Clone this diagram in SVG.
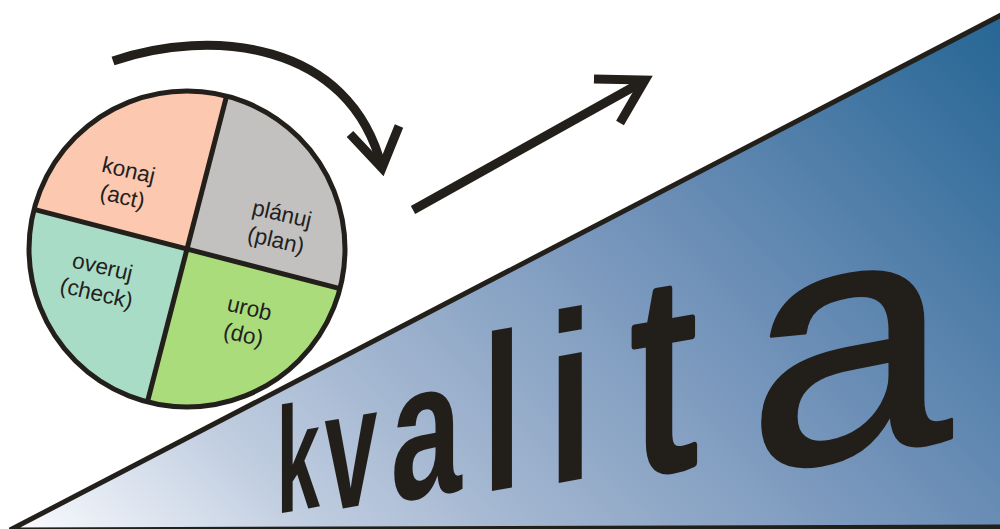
<svg xmlns="http://www.w3.org/2000/svg" width="1000" height="529" viewBox="0 0 1000 529">
<defs>
<linearGradient id="ramp" gradientUnits="userSpaceOnUse" x1="0" y1="529" x2="757" y2="-228">
<stop offset="0" stop-color="#ffffff"/>
<stop offset="0.05" stop-color="#eef2f8"/>
<stop offset="0.21" stop-color="#c0cde0"/>
<stop offset="0.365" stop-color="#a0b4cf"/>
<stop offset="0.645" stop-color="#6d8fb7"/>
<stop offset="0.96" stop-color="#2d6a98"/>
<stop offset="1" stop-color="#266797"/>
</linearGradient>
<style>
.ln{fill:none;stroke:#231f1a;stroke-width:9;stroke-linejoin:miter;stroke-linecap:butt}
.q{stroke:none}
.lbl{font-family:"Liberation Sans",Arial,sans-serif;font-size:22.5px;fill:#231f20;text-anchor:middle}
.big{font-family:"Liberation Sans",Arial,sans-serif;font-weight:bold;fill:#221f1b}
.reg{font-family:"Liberation Sans",Arial,sans-serif;font-weight:normal;fill:#221f1b;stroke:#221f1b;stroke-linejoin:round}
</style>
</defs>
<rect width="1000" height="529" fill="#ffffff"/>
<g id="slope">
<polygon points="10,530 1003,14 1003,527" fill="url(#ramp)" stroke="#231f1a" stroke-width="5"/>
</g>
<g id="kvalita">
<text class="big" x="-10.7" y="0" font-size="150" transform="translate(282,513) skewY(-10) scale(0.52,1)">k</text>
<text class="big" x="-0.9" y="0" font-size="171" transform="translate(325,511.6) skewY(-10) scale(0.556,1)">v</text>
<text class="big" x="-6.8" y="0" font-size="194" transform="translate(395,502) skewY(-10) scale(0.66,1)">a</text>
<text class="big" x="-15.7" y="0" font-size="221" transform="translate(492,491) skewY(-10) scale(0.66,1)">l</text>
<text class="big" x="-17" y="0" font-size="240" transform="translate(559,483) skewY(-10) scale(0.70,1)">i</text>
<text class="reg" x="0" y="-2" font-size="278" stroke-width="7" transform="translate(631,477.6) skewY(-10) scale(0.84,1)">t</text>
<text class="reg" x="-10" y="-1" font-size="340" stroke-width="3" transform="translate(758,474) skewY(-10) scale(1.08,1)">a</text>
</g>
<g id="wheel">
<g id="plan">
<path class="q" d="M187,249 L226.56,96.04 A158,158 0 0,1 339.96,288.56 Z" fill="#c2c1c0"/>
<g transform="translate(279,227) rotate(13)"><text class="lbl" y="-6">plánuj</text><text class="lbl" y="21">(plan)</text></g>
</g>
<g id="do">
<path class="q" d="M187,249 L339.96,288.56 A158,158 0 0,1 147.44,401.96 Z" fill="#abdc7b"/>
<g transform="translate(246.5,321.5) rotate(13)"><text class="lbl" y="-6">urob</text><text class="lbl" y="21">(do)</text></g>
</g>
<g id="check">
<path class="q" d="M187,249 L147.44,401.96 A158,158 0 0,1 34.04,209.44 Z" fill="#a9dcc7"/>
<g transform="translate(99.5,280) rotate(13)"><text class="lbl" y="-6">overuj</text><text class="lbl" y="21">(check)</text></g>
</g>
<g id="act">
<path class="q" d="M187,249 L34.04,209.44 A158,158 0 0,1 226.56,96.04 Z" fill="#fdc8b0"/>
<g transform="translate(125.5,183.5) rotate(13)"><text class="lbl" y="-6">konaj</text><text class="lbl" y="21">(act)</text></g>
</g>
<g id="rim">
<circle cx="187" cy="249" r="158" fill="none" stroke="#231f1a" stroke-width="5"/>
<line x1="226.56" y1="96.04" x2="147.44" y2="401.96" stroke="#231f1a" stroke-width="5"/>
<line x1="34.04" y1="209.44" x2="339.96" y2="288.56" stroke="#231f1a" stroke-width="5"/>
</g>
</g>
<g id="connectors">
<path class="ln" d="M113,61 C210,28 350,40 382,168"/>
<polyline class="ln" points="350,134 382,168 399,126"/>
<line class="ln" x1="413" y1="210" x2="644" y2="81"/>
<polyline class="ln" points="594,79 645,80 620,123"/>
</g>
</svg>
